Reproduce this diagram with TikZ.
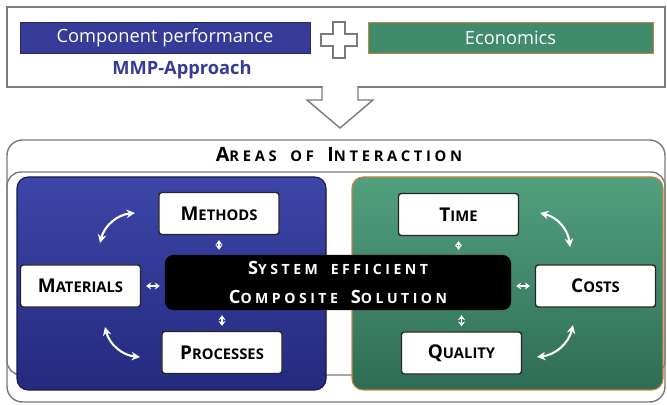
\documentclass[tikz,border=0pt]{standalone}
\usepackage{fontspec}
\setmainfont{Open Sans}
\newfontfamily\widefont[LetterSpace=25,WordSpace=1.8]{Open Sans}
\usetikzlibrary{arrows.meta}

\definecolor{mmpblue}{HTML}{363B98}
\definecolor{panelbluetop}{HTML}{3D45A8}
\definecolor{panelbluebot}{HTML}{242A7E}
\definecolor{ecogreen}{HTML}{3F8B6B}
\definecolor{panelgreentop}{HTML}{52A080}
\definecolor{panelgreenbot}{HTML}{2E6C55}
\definecolor{ecoorange}{HTML}{C8843C}
\definecolor{framegray}{HTML}{7A7A7A}

% first letter of a small-caps word
\newcommand\initcap[2]{{\fontsize{#1}{#1}\selectfont #2}}

\tikzset{
  bar/.style={minimum height=0.775cm, text=white, font=\fontsize{13}{15}\selectfont, inner sep=0pt},
  item/.style={draw=black!85, line width=1pt, fill=white, rounded corners=2pt, minimum width=3cm, minimum height=1.05cm, font=\fontsize{10.5}{12}\selectfont\bfseries},
  link/.style={white, line width=1.2pt, {Stealth[length=3.5pt,width=5pt]}-{Stealth[length=3.5pt,width=5pt]}, shorten <=3.5pt, shorten >=3.5pt},
  swing/.style={white, line width=1.5pt, {Stealth[length=6pt,width=6pt]}-{Stealth[length=6pt,width=6pt]}}
}

\begin{document}
\begin{tikzpicture}[x=0.025cm, y=-0.025cm]
\useasboundingbox (0,0) rectangle (667,405);

% upper frame: the two inputs
\draw[framegray, line width=1pt, fill=white] (7,7) rectangle (665,87);
\node[bar, fill=mmpblue, draw=mmpblue!70!black, minimum width=7.25cm] (perf) at (165,37.5) {Component performance};
\node[bar, fill=ecogreen, draw=ecoorange, minimum width=7.125cm] (eco) at (510.5,37.5) {Economics};
\node[text=mmpblue, font=\fontsize{13}{15}\selectfont\bfseries] (mmp) at (182,70) {MMP-Approach};
\filldraw[framegray, fill=white, line width=1pt] (333,22) -- (345,22) -- (345,34) -- (357,34) -- (357,46) -- (345,46) -- (345,58) -- (333,58) -- (333,46) -- (321,46) -- (321,34) -- (333,34) -- cycle;

% arrow down
\fill[white] (323,85) rectangle (357,89);
\filldraw[framegray, fill=white, line width=1pt] (322,87) -- (322,100) -- (307,100) -- (340,128) -- (373,100) -- (358,100) -- (358,87);

% lower frame
\draw[framegray, line width=1pt, rounded corners=11pt] (7,140) rectangle (665,402);
\draw[framegray, line width=1pt, rounded corners=10pt] (7,172) rectangle (665,375);
\node[font=\widefont\bfseries\fontsize{10.5}{12}\selectfont] (areas) at (339,155) {\initcap{14}{A}REAS OF \initcap{14}{I}NTERACTION};

% the two panels
\shadedraw[draw=panelbluebot!60!black, line width=0.8pt, top color=panelbluetop, bottom color=panelbluebot, rounded corners=8pt] (17,177) rectangle (326,390);
\shadedraw[draw=ecoorange, line width=0.8pt, top color=panelgreentop, bottom color=panelgreenbot, rounded corners=8pt] (352,177) rectangle (663,390);

\node[fill=black, rounded corners=6pt, minimum width=8.65cm, minimum height=1.375cm, text=white, align=center,
  font=\widefont\bfseries\fontsize{10}{20.5}\selectfont] (core) at (338,282.5)
  {\initcap{13}{S}YSTEM EFFICIENT\\\initcap{13}{C}OMPOSITE \initcap{13}{S}OLUTION};

\node[item] (methods) at (219,213.5) {\initcap{13.5}{M}ETHODS};
\node[item] (materials) at (80.5,286) {\initcap{13.5}{M}ATERIALS};
\node[item] (processes) at (222,352.5) {\initcap{13.5}{P}ROCESSES};
\node[item] (time) at (458.5,214.5) {\initcap{13.5}{T}IME};
\node[item] (costs) at (595.5,286) {\initcap{13.5}{C}OSTS};
\node[item] (quality) at (461.5,353) {\initcap{13.5}{Q}UALITY};

% short links to the centre
\draw[link] (methods) -- (methods |- core.north);
\draw[link] (processes) -- (processes |- core.south);
\draw[link] (materials) -- (materials -| core.west);
\draw[link] (time) -- (time |- core.north);
\draw[link] (quality) -- (quality |- core.south);
\draw[link] (costs) -- (costs -| core.east);

% curved arrows between the outer boxes
\coordinate (mm1) at (100,243);
\coordinate (mm2) at (135,213);
\coordinate (mp1) at (105,327);
\coordinate (mp2) at (140,357);
\coordinate (tc1) at (540,213);
\coordinate (tc2) at (570,247);
\coordinate (qc1) at (537,357);
\coordinate (qc2) at (573,325);
\draw[swing] (mm1) to[bend left=35] (mm2);
\draw[swing] (mp1) to[bend right=35] (mp2);
\draw[swing] (tc1) to[bend left=35] (tc2);
\draw[swing] (qc1) to[bend right=35] (qc2);
\end{tikzpicture}
\end{document}
